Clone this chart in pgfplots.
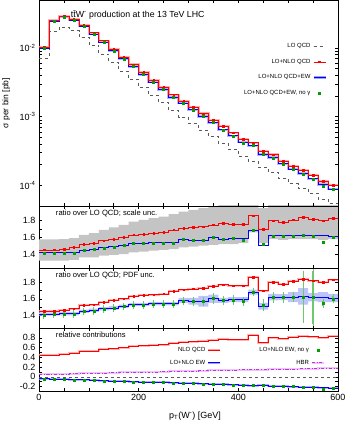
\documentclass[border=0pt]{standalone}
\usepackage{fontspec}
\setmainfont{Liberation Sans}
\usepackage{pgfplots}
\usepackage{pgfplotstable}
\pgfplotsset{compat=1.18}
\usepgfplotslibrary{fillbetween}

\definecolor{lored}{RGB}{255,160,160}
\definecolor{loblue}{RGB}{160,160,255}
\definecolor{pdfblue}{RGB}{190,195,250}
\definecolor{scalegray}{RGB}{196,196,196}
\definecolor{mgreen}{RGB}{0,160,0}
\definecolor{egreen}{RGB}{110,200,110}
\definecolor{hbrc}{RGB}{190,50,230}
\definecolor{lohbr}{RGB}{240,195,250}
\definecolor{logray}{RGB}{90,90,90}

% bins of 20 GeV; last row repeats the last bin so the steps reach 600
\pgfplotstableread{
x c lo nlo ew noa R B G slo shi blo bhi eg qcd rew rg hbr
0 10 0.00710 0.0103 0.01005 0.00998 1.45 1.416 1.405 1.32 1.575 1.396 1.436 0.02 0.45 -0.04 -0.045 0.05
20 30 0.01731 0.0251 0.02451 0.02441 1.45 1.416 1.41 1.32 1.575 1.396 1.436 0.02 0.45 -0.045 -0.05 0.055
40 50 0.02007 0.0293 0.02850 0.02840 1.46 1.42 1.415 1.32 1.58 1.40 1.44 0.02 0.46 -0.05 -0.055 0.06
60 70 0.01791 0.0265 0.02543 0.02534 1.48 1.42 1.415 1.33 1.59 1.40 1.44 0.02 0.48 -0.055 -0.06 0.065
80 90 0.01428 0.0217 0.02071 0.02063 1.52 1.45 1.445 1.36 1.63 1.43 1.47 0.02 0.52 -0.06 -0.065 0.07
100 110 0.01089 0.01666 0.01590 0.01585 1.53 1.46 1.455 1.36 1.65 1.44 1.48 0.02 0.53 -0.07 -0.075 0.075
120 130 0.00818 0.01276 0.01211 0.01207 1.56 1.48 1.475 1.38 1.69 1.46 1.50 0.02 0.56 -0.075 -0.08 0.08
140 150 0.00612 0.00967 0.00912 0.00909 1.58 1.49 1.485 1.39 1.72 1.47 1.51 0.02 0.58 -0.085 -0.09 0.085
160 170 0.00463 0.00741 0.00699 0.00697 1.60 1.51 1.505 1.40 1.75 1.49 1.53 0.02 0.60 -0.09 -0.095 0.09
180 190 0.00352 0.00574 0.00539 0.00537 1.63 1.53 1.525 1.42 1.79 1.51 1.55 0.02 0.63 -0.10 -0.105 0.095
200 210 0.00268 0.00440 0.00410 0.00409 1.64 1.53 1.525 1.43 1.81 1.51 1.55 0.02 0.64 -0.105 -0.11 0.10
220 230 0.00207 0.00341 0.00319 0.00318 1.65 1.54 1.535 1.44 1.83 1.52 1.56 0.02 0.65 -0.11 -0.115 0.102
240 250 0.00161 0.00267 0.00248 0.00247 1.66 1.54 1.535 1.45 1.85 1.52 1.56 0.02 0.66 -0.115 -0.12 0.105
260 270 0.00124 0.00209 0.00191 0.00190 1.69 1.54 1.535 1.46 1.88 1.52 1.56 0.02 0.69 -0.12 -0.13 0.11
280 290 0.000994 0.00170 0.00157 0.001566 1.71 1.58 1.575 1.48 1.91 1.55 1.61 0.025 0.71 -0.125 -0.13 0.115
300 310 0.000802 0.00138 0.00126 0.001255 1.72 1.57 1.565 1.49 1.93 1.53 1.61 0.025 0.72 -0.13 -0.14 0.12
320 330 0.000642 0.00111 0.001008 0.001005 1.73 1.57 1.565 1.50 1.95 1.505 1.635 0.03 0.73 -0.14 -0.145 0.125
340 350 0.000511 0.000894 0.000818 0.000820 1.75 1.60 1.605 1.51 1.97 1.55 1.65 0.04 0.75 -0.145 -0.145 0.13
360 370 0.000408 0.000723 0.000645 0.000645 1.77 1.58 1.58 1.52 2.00 1.55 1.61 0.03 0.77 -0.15 -0.16 0.135
380 390 0.000332 0.000584 0.000528 0.000526 1.76 1.59 1.585 1.52 2.00 1.56 1.62 0.03 0.76 -0.16 -0.165 0.14
400 410 0.000266 0.000468 0.000423 0.000416 1.76 1.59 1.565 1.53 2.00 1.56 1.62 0.025 0.76 -0.165 -0.175 0.145
420 430 0.000225 0.000418 0.000378 0.000379 1.86 1.68 1.685 1.66 2.00 1.65 1.71 0.02 0.86 -0.18 -0.18 0.148
440 450 0.000186 0.000316 0.000281 0.000283 1.70 1.51 1.52 1.53 1.95 1.47 1.55 0.045 0.70 -0.175 -0.18 0.15
460 470 0.000156 0.000280 0.000253 0.000252 1.80 1.62 1.615 1.58 2.05 1.58 1.66 0.04 0.80 -0.19 -0.19 0.155
480 490 0.000127 0.000226 0.000206 0.000205 1.78 1.62 1.615 1.57 2.05 1.585 1.655 0.035 0.78 -0.19 -0.195 0.16
500 510 0.000106 0.000191 0.000172 0.000172 1.81 1.62 1.62 1.58 2.05 1.56 1.68 0.035 0.81 -0.20 -0.20 0.163
520 530 0.0000908 0.000167 0.000148 0.0001476 1.84 1.63 1.625 1.58 2.05 1.53 1.73 0.29 0.84 -0.205 -0.215 0.167
540 550 0.0000769 0.000140 0.0001246 0.0001242 1.82 1.62 1.615 1.58 2.05 1.57 1.67 0.32 0.82 -0.21 -0.215 0.17
560 570 0.0000633 0.000114 0.0001025 0.0000978 1.80 1.62 1.545 1.57 2.05 1.56 1.68 0.03 0.80 -0.22 -0.255 0.175
580 590 0.0000546 0.000100 0.0000879 0.0000874 1.83 1.61 1.60 1.58 2.05 1.56 1.66 0.03 0.83 -0.225 -0.225 0.18
600 nan 0.0000546 0.000100 0.0000879 nan 1.83 1.61 nan 1.58 2.05 1.56 1.66 nan 0.83 -0.225 nan 0.18
}\bins

\pgfplotsset{
  panel/.style={
    scale only axis, width=299pt, anchor=south west,
    xmin=0, xmax=600,
    xtick={0,200,400,600},
    minor xtick={50,100,150,250,300,350,450,500,550},
    tick align=inside, tick pos=both,
    major tick length=3pt, minor tick length=3pt,
    axis line style={line width=0.8pt},
    every tick/.style={black, line width=0.5pt},
    tick label style={font=\fontsize{9}{10}\selectfont},
    /pgf/number format/assume math mode=true,
    legend image code/.code={\draw[mark repeat=2,mark phase=2,##1] plot coordinates {(0pt,0pt) (6pt,0pt) (12pt,0pt)};},
    legend cell align=right, legend plot pos=right,
    legend style={draw=none, fill=none, font=\fontsize{6}{7}\selectfont, inner sep=0pt},
  },
  ratio/.style={panel, xticklabels={},
    ytick={1.4,1.6,1.8}, minor y tick num=1,
    yticklabel style={/pgf/number format/.cd, fixed, fixed zerofill, precision=1},
  },
  step/.style={const plot, forget plot},
  dot/.style={only marks, forget plot, mark=square*, mark size=0.8pt},
}

\begin{document}
\begin{tikzpicture}

% ---------------- main distribution ----------------
\begin{axis}[panel, at={(39pt,217pt)}, height=206pt,
  ymode=log, ymin=5e-5, ymax=0.05,
  xticklabels={},
  ytick={1e-4,1e-3,1e-2},
  yticklabels={10\textsuperscript{-4},10\textsuperscript{-3},10\textsuperscript{-2}},
  ylabel={σ per bin [pb]},
  every axis y label/.style={at={(axis description cs:-0.11,0.5)}, rotate=90, anchor=center,
    font=\fontsize{8.5}{10}\selectfont},
  legend style={at={(rel axis cs:0.963,0.80)}, anchor=north east, row sep=6pt},
]
\addplot[step, logray, dashed, line width=0.65pt] table[x=x, y=lo] {\bins};
\addplot[step, loblue, line width=2.3pt, opacity=0.8] table[x=x, y=ew] {\bins};
\addplot[step, lored, line width=2.3pt, opacity=0.8] table[x=x, y=nlo] {\bins};
\addplot[step, blue, line width=0.65pt] table[x=x, y=ew] {\bins};
\addplot[step, red, line width=0.65pt] table[x=x, y=nlo] {\bins};
\addplot[dot, red] table[x=c, y=nlo] {\bins};
\addplot[dot, mgreen, mark size=1pt] table[x=c, y=noa] {\bins};

\addlegendimage{logray, dashed, line width=0.65pt}
\addlegendentry{LO QCD}
\addlegendimage{red, line width=0.65pt, mark=square*, mark size=0.8pt}
\addlegendentry{LO+NLO QCD}
\addlegendimage{legend image code/.code={\draw[loblue,line width=2.3pt](0pt,0pt)--(12pt,0pt);\draw[blue,line width=0.65pt](0pt,0pt)--(12pt,0pt);}}
\addlegendentry{LO+NLO QCD+EW}
\addlegendimage{only marks, mgreen, mark=square*, mark size=1pt}
\addlegendentry{LO+NLO QCD+EW, no γ}

\node[anchor=west, font=\fontsize{8.8}{10}\selectfont] at (rel axis cs:0.095,0.927)
  {t\=tW\textsuperscript{-} production at the 13 TeV LHC};
\node[rotate=90, font=\fontsize{6}{7}\selectfont, text=gray] at (rel axis cs:1.03,0.24)
  {MadGraph5\_aMC@NLO};
\end{axis}

% ---------------- ratio, scale uncertainty ----------------
\begin{axis}[ratio, at={(39pt,155pt)}, height=62pt, ymin=1.232, ymax=1.977]
\addplot[step, draw=none, name path=shi] table[x=x, y=shi] {\bins};
\addplot[step, draw=none, name path=slo] table[x=x, y=slo] {\bins};
\addplot[scalegray, forget plot] fill between[of=shi and slo];
\addplot[step, blue, line width=0.65pt] table[x=x, y=B] {\bins};
\addplot[step, red, line width=0.65pt] table[x=x, y=R] {\bins};
\addplot[dot, red] table[x=c, y=R] {\bins};
\addplot[dot, mgreen, mark size=1pt] table[x=c, y=G] {\bins};
\node[anchor=west, font=\fontsize{7.6}{9}\selectfont] at (rel axis cs:0.045,0.885)
  {ratio over LO QCD; scale unc.};
\end{axis}

% ---------------- ratio, PDF uncertainty ----------------
\begin{axis}[ratio, at={(39pt,95pt)}, height=60pt, ymin=1.246, ymax=1.973]
\addplot[step, draw=none, name path=bhi] table[x=x, y=bhi] {\bins};
\addplot[step, draw=none, name path=blo] table[x=x, y=blo] {\bins};
\addplot[pdfblue, forget plot] fill between[of=bhi and blo];
\addplot[step, lored, line width=2pt, opacity=0.8] table[x=x, y=R] {\bins};
\addplot[step, blue, line width=0.65pt] table[x=x, y=B] {\bins};
\addplot[step, red, line width=0.65pt] table[x=x, y=R] {\bins};
\addplot[dot, red] table[x=c, y=R] {\bins};
\addplot[only marks, forget plot, mgreen, mark=square*, mark size=1pt,
  error bars/.cd, y dir=both, y explicit,
  error bar style={egreen, line width=1.2pt},
  error mark options={egreen, mark size=2.2pt, line width=1pt}]
  table[x=c, y=G, y error=eg] {\bins};
\node[anchor=west, font=\fontsize{7.6}{9}\selectfont] at (rel axis cs:0.045,0.883)
  {ratio over LO QCD; PDF unc.};
\end{axis}

% ---------------- relative contributions ----------------
\begin{axis}[panel, at={(39pt,32pt)}, height=63pt, ymin=-0.29, ymax=1.0,
  ytick={-0.2,0,0.2,0.4,0.6,0.8}, minor y tick num=1,
  yticklabel style={/pgf/number format/.cd, fixed, precision=1},
  xlabel={p\textsubscript{T}(W\textsuperscript{-}) [GeV]},
  every axis x label/.style={at={(axis description cs:0.522,0)}, anchor=center, yshift=-25pt,
    font=\fontsize{9}{10}\selectfont},
  legend columns=2,
  legend style={at={(rel axis cs:0.957,0.73)}, anchor=north east, row sep=3pt,
    /tikz/every even column/.append style={column sep=36pt}},
]
\addplot[gray!70!black, dashed, line width=0.5pt, forget plot] coordinates {(0,0) (600,0)};
\addplot[step, lohbr, line width=2pt] table[x=x, y=hbr] {\bins};
\addplot[step, hbrc, dash dot, line width=0.6pt] table[x=x, y=hbr] {\bins};
\addplot[step, lored, line width=2pt, opacity=0.8] table[x=x, y=qcd] {\bins};
\addplot[step, red, line width=0.6pt] table[x=x, y=qcd] {\bins};
\addplot[step, loblue, line width=2pt, opacity=0.8] table[x=x, y=rew] {\bins};
\addplot[step, blue, line width=0.65pt] table[x=x, y=rew] {\bins};
\addplot[dot, mgreen, mark size=1pt] table[x=c, y=rg] {\bins};

\addlegendimage{legend image code/.code={\draw[lored,line width=2pt](0pt,0pt)--(12pt,0pt);\draw[red,line width=0.6pt](0pt,0pt)--(12pt,0pt);}}
\addlegendentry{NLO QCD}
\addlegendimage{only marks, mgreen, mark=square*, mark size=1pt}
\addlegendentry{LO+NLO EW, no γ}
\addlegendimage{legend image code/.code={\draw[loblue,line width=2pt](0pt,0pt)--(12pt,0pt);\draw[blue,line width=0.65pt](0pt,0pt)--(12pt,0pt);}}
\addlegendentry{LO+NLO EW}
\addlegendimage{legend image code/.code={\draw[lohbr,line width=2pt](0pt,0pt)--(12pt,0pt);\draw[hbrc,dash dot,line width=0.6pt](0pt,0pt)--(12pt,0pt);}}
\addlegendentry{HBR}
\node[anchor=west, font=\fontsize{7.6}{9}\selectfont] at (rel axis cs:0.045,0.889)
  {relative contributions};
\end{axis}

\pgfresetboundingbox
\path (0pt,0pt) rectangle (349pt,423pt);
\end{tikzpicture}
\end{document}
